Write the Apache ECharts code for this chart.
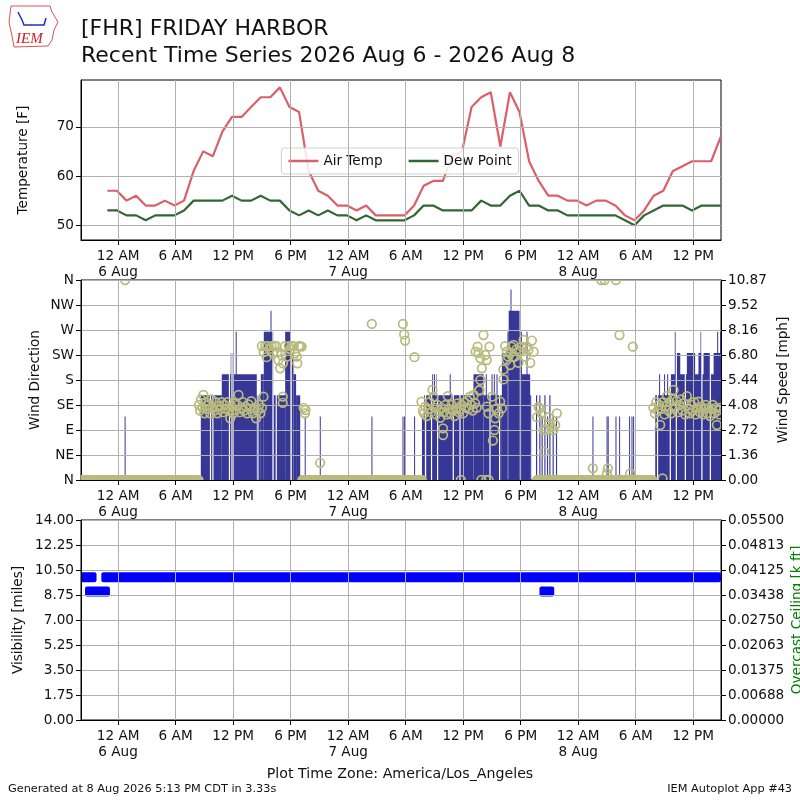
<!DOCTYPE html>
<html>
<head>
<meta charset="UTF-8">
<title>FHR recent time series</title>
<style>
html,body{margin:0;padding:0;background:#fff}
#main{width:800px;height:800px}
</style>
</head>
<body>
<div id="main"></div>
<script src="https://cdn.jsdelivr.net/npm/echarts@6/dist/echarts.min.js"></script>
<script>
// all times are hours counted from 12 AM 6 Aug (America/Los_Angeles)
var XMIN = -3.87, XMAX = 62.9;
var tickHours = [0, 6, 12, 18, 24, 30, 36, 42, 48, 54, 60];
var tickText = ['12 AM\n6 Aug', '6 AM', '12 PM', '6 PM', '12 AM\n7 Aug', '6 AM', '12 PM', '6 PM', '12 AM\n8 Aug', '6 AM', '12 PM'];
var dirNames = ['N', 'NE', 'E', 'SE', 'S', 'SW', 'W', 'NW', 'N'];

// hourly obs at :53, first one 10:53 PM 5 Aug
var firstObsHour = -1.12;
var airTemp = [57,57,55,56,54,54,55,54,55,61,65,64,69,72,72,74,76,76,78,74,73,61,57,56,54,54,53,54,52,52,
  52,52,54,58,59,59,64,65,74,76,77,66,77,73,63,59,56,56,55,55,54,55,55,54,52,51,53,56,57,61,62,63,63,63,68];
var dewPoint = [53,53,52,52,51,52,52,52,53,55,55,55,55,56,55,55,56,55,55,53,52,53,52,53,52,52,51,52,51,51,
  51,51,52,54,54,53,53,53,53,55,54,54,56,57,54,54,53,53,52,52,52,52,52,52,51,50,52,53,54,54,54,53,54,54,54];

// wind speed runs: [start hour, end hour, knots]
var KT2MPH = 1.15078;
var WIND_MAX = 10.8745;
var windRuns = [
  [0.68,0.78,3],
  [8.63,10.82,4],[10.82,14.47,5],[11.75,11.83,6],[11.93,12.0,6],[12.27,12.35,7],
  [14.47,14.89,4],[14.89,15.2,5],[15.2,16.2,7],[15.9,15.98,8],[16.2,17.43,4],
  [17.43,17.95,7],[17.95,18.3,6],[18.3,18.57,5],[18.57,19.0,4],
  [19.47,19.55,3],[21.04,21.12,3],[26.43,26.51,3],[29.67,29.75,3],[29.84,29.92,3],[30.88,30.96,3],
  [31.7,31.93,3],[31.93,37.08,4],[32.76,32.84,5],[32.96,33.04,5],[33.22,33.3,5],[34.6,34.68,5],
  [37.08,38.12,5],[38.12,40.04,4],[38.36,38.44,5],[38.96,39.04,5],[39.2,39.28,5],[39.48,39.56,5],
  [40.04,40.62,6],[40.62,40.75,7],[40.75,41.88,8],[40.94,41.02,9],[41.88,42.13,7],
  [42.13,42.99,5],[42.61,42.69,7],[42.99,43.1,4],
  [43.6,43.72,4],[43.94,44.06,4],[44.18,44.3,3],[44.47,44.59,4],[44.74,44.86,3],[44.99,45.11,4],
  [45.33,45.45,3],[45.68,45.8,3],
  [49.49,49.57,3],[50.96,51.04,3],[51.08,51.16,3],[51.89,51.97,3],[52.27,52.35,3],
  [53.31,53.39,3],[53.56,53.64,3],[53.73,53.81,3],
  [56.04,57.6,4],[56.44,56.52,5],[56.96,57.04,5],[57.28,57.36,5],[57.6,62.9,5],
  [58.12,58.65,6],[59.34,60.2,6],[60.55,60.9,6],[61.08,61.78,6],[62.13,62.9,6],
  [58.08,58.16,7],[60.76,60.84,7],[62.5,62.58,7],[62.8,62.88,7]
];
// missing wind obs inside the windy spells (hours)
var windGaps = [9.63, 9.88, 11.61, 11.87, 14.58, 16.15, 16.49, 18.05,
  32.07, 32.69, 33.32, 34.96, 35.66, 38.79, 39.79,
  56.27, 57.6, 58.23, 59.17, 60.9, 61.78];

// calm spells (direction 0, speed 0): [start hour, end hour]
var calmSpans = [[-3.9, 8.4], [19.2, 31.7], [43.7, 55.75]];

// wind direction obs: [hour, degrees]
var windDir = [
  [0.73,360],
  [8.45,135],[8.55,125],[8.65,145],[8.8,130],[8.9,153],[9.0,120],[9.15,140],[9.3,128],[9.45,135],[9.6,120],
  [9.75,145],[9.9,130],[10.05,125],[10.2,140],[10.35,120],[10.5,133],[10.65,127],[10.8,140],[10.95,122],
  [11.1,135],[11.25,128],[11.4,140],[11.55,125],[11.7,111],[11.85,132],[12.0,120],[12.15,138],[12.3,126],
  [12.45,135],[12.56,153],[12.7,122],[12.85,130],[13.0,140],[13.15,125],[13.3,132],[13.45,120],[13.6,136],
  [13.75,128],[13.9,142],[14.05,120],[14.2,130],[14.4,111],[14.55,125],[14.7,135],[14.85,120],[15.0,130],[15.17,150],
  [15.0,241],[15.2,230],[15.35,241],[15.5,221],[15.6,241],[15.8,236],[16.0,241],[16.15,228],[16.3,241],
  [16.5,241],[16.6,230],[16.73,216],[16.9,201],[17.05,225],[17.18,150],[17.18,139],[17.2,210],[17.4,241],
  [17.6,222],[17.8,241],[17.95,235],[18.1,241],[18.3,241],[18.45,228],[18.65,222],[18.7,210],[18.85,241],
  [19.0,241],[19.15,240],[19.35,130],[19.5,120],[19.55,126],
  [21.08,31],[26.47,281],[29.71,281],[29.85,262],[29.95,251],[30.92,221],
  [31.65,141],[31.8,125],[31.9,120],[32.05,132],[32.2,115],[32.35,128],[32.5,140],[32.65,122],[32.8,162],
  [32.9,150],[33.0,130],[33.15,118],[33.3,135],[33.45,125],[33.6,112],[33.75,130],[33.9,93],[33.9,81],
  [34.0,122],[34.15,135],[34.3,118],[34.4,151],[34.5,128],[34.65,120],[34.8,135],[34.95,125],[35.1,115],
  [35.25,130],[35.4,138],[35.55,122],[35.7,128],[35.76,0],[35.85,135],[36.0,120],[36.15,140],[36.3,130],
  [36.45,143],[36.6,128],[36.7,150],[36.85,135],[37.0,125],[37.1,153],[37.25,138],[37.4,130],[37.67,161],
  [37.3,231],[37.5,240],[37.6,229],[37.7,162],[37.8,219],[37.8,180],[37.9,0],[37.95,201],[38.12,261],
  [38.3,225],[38.4,0],[38.47,216],[38.47,132],[38.65,120],[38.65,0],[38.75,240],
  [39.0,150],[39.1,71],[39.27,90],[39.34,111],[39.5,129],[39.7,120],[39.86,141],[40.04,129],[40.2,181],[40.2,199],
  [40.38,241],[40.55,231],[40.55,216],[40.7,222],[40.9,207],[40.9,228],[41.05,240],[41.2,222],[41.25,243],
  [41.4,222],[41.55,235],[41.77,211],[41.95,231],[42.1,240],[42.3,252],[42.5,222],[42.65,240],[42.8,234],
  [43.0,211],[43.17,251],[43.35,231],
  [43.7,113],[43.86,131],[44.0,129],[44.2,120],[44.4,90],[44.45,51],[44.7,90],[44.9,113],[45.0,102],
  [45.2,95],[45.4,90],[45.6,99],[45.78,120],
  [49.53,21],[50.4,360],[50.75,360],[51.0,12],[51.1,21],[51.95,360],[52.31,261],[53.43,12],[53.7,240],[56.8,3],
  [55.85,130],[56.0,120],[56.15,140],[56.3,125],[56.45,135],[56.56,99],[56.7,128],[56.85,140],[57.0,118],
  [57.1,133],[57.25,151],[57.4,125],[57.55,140],[57.7,120],[57.85,145],[57.95,162],[58.1,130],[58.25,142],
  [58.4,122],[58.55,135],[58.7,145],[58.85,125],[59.0,138],[59.15,118],[59.34,151],[59.5,128],[59.65,120],
  [59.8,135],[59.95,125],[60.1,140],[60.25,118],[60.4,130],[60.55,141],[60.7,122],[60.85,132],[61.0,118],
  [61.15,128],[61.3,135],[61.45,120],[61.6,130],[61.75,115],[61.9,128],[62.05,135],[62.2,120],[62.35,130],
  [62.47,99],[62.6,125],[62.75,118],[62.85,130]
];

// visibility runs: [start hour, end hour, miles]
var visRuns = [[-3.9,-2.25,10],[-1.75,62.9,10],[-3.45,-0.85,9],[43.96,45.5,9]];

var FONT = 'DejaVu Sans';
var RED = '#db5f69', GREEN = '#336633', BAR = '#373797', OLIVE = '#b9ba7c', GRID = '#b0b0b0';

function xLabel(v) {
  var i = tickHours.indexOf(Math.round(v));
  return i >= 0 ? tickText[i] : '';
}
function fixed(v, n) {
  var p = Math.pow(10, n);
  return (Math.round(v * p + 1e-6) / p).toFixed(n);
}

function xAxisFor(g) {
  return {
    type: 'value', gridIndex: g, min: XMIN, max: XMAX, z: 5,
    axisLine: {show: true, onZero: false, lineStyle: {color: '#000', width: 1}},
    axisTick: {show: true, length: 5, customValues: tickHours, lineStyle: {color: '#000'}},
    axisLabel: {customValues: tickHours, formatter: xLabel, fontFamily: FONT, fontSize: 13.6,
      color: '#111', margin: 8, lineHeight: 16},
    splitLine: {show: true, lineStyle: {color: GRID, width: 1}}
  };
}
function yAxisBase(g, pos) {
  return {
    type: 'value', gridIndex: g, position: pos, z: 5,
    axisLine: {show: true, onZero: false, lineStyle: {color: '#000', width: 1}},
    axisTick: {show: true, length: 5, lineStyle: {color: '#000'}},
    axisLabel: {fontFamily: FONT, fontSize: 13.6, color: '#111', margin: 7},
    splitLine: {show: pos === 'left', lineStyle: {color: GRID, width: 1}}
  };
}

var yTemp = yAxisBase(0, 'left');
yTemp.min = 47; yTemp.max = 79.5;
yTemp.axisTick.customValues = [50, 60, 70];
yTemp.axisLabel.customValues = [50, 60, 70];

var yDir = yAxisBase(1, 'left');
yDir.min = 0; yDir.max = 360; yDir.interval = 45;
yDir.axisLabel.formatter = function (v) { return dirNames[Math.round(v / 45)]; };

var ySpeed = yAxisBase(1, 'right');
ySpeed.min = 0; ySpeed.max = WIND_MAX; ySpeed.interval = WIND_MAX / 8;
ySpeed.axisLabel.formatter = function (v) { return fixed(v, 2); };

var yVis = yAxisBase(2, 'left');
yVis.min = 0; yVis.max = 14; yVis.interval = 1.75;
yVis.axisLabel.formatter = function (v) { return fixed(v, 2); };

var yCeil = yAxisBase(2, 'right');
yCeil.min = 0; yCeil.max = 0.055; yCeil.interval = 0.055 / 8;
yCeil.axisLabel.formatter = function (v) { return fixed(v, 5); };

function pairs(vals) {
  return vals.map(function (v, i) { return [firstObsHour + i, v]; });
}

function runRect(scale, color) {
  return function (params, api) {
    var top = api.coord([api.value(0), api.value(2) * scale]);
    var bot = api.coord([api.value(1), 0]);
    return {type: 'rect', shape: {x: top[0], y: top[1], width: Math.max(bot[0] - top[0], 1), height: bot[1] - top[1]},
      style: {fill: color}};
  };
}

function axisTitle(text, x, y, color) {
  return {type: 'text', x: x, y: y, rotation: Math.PI / 2, z: 20,
    style: {text: text, fontFamily: FONT, fontSize: 13.6, fill: color || '#111',
      align: 'center', verticalAlign: 'middle', textAlign: 'center', textVerticalAlign: 'middle'}};
}
function plainText(text, x, y, size, align) {
  return {type: 'text', x: x, y: y, z: 20,
    style: {text: text, fontFamily: FONT, fontSize: size, fill: '#111',
      align: align, verticalAlign: 'middle', textAlign: align, textVerticalAlign: 'middle'}};
}

var chart = echarts.init(document.getElementById('main'), null, {renderer: 'canvas'});
chart.setOption({
  animation: false,
  backgroundColor: '#fff',
  grid: [
    {left: 81, top: 80, width: 640, height: 160, show: true, borderColor: '#000', borderWidth: 1},
    {left: 81, top: 280, width: 640, height: 200, show: true, borderColor: '#000', borderWidth: 1},
    {left: 81, top: 520, width: 640, height: 200, show: true, borderColor: '#000', borderWidth: 1}
  ],
  xAxis: [xAxisFor(0), xAxisFor(1), xAxisFor(2)],
  yAxis: [yTemp, yDir, ySpeed, yVis, yCeil],
  legend: {
    data: ['Air Temp', 'Dew Point'], left: 'center', top: 148, icon: 'rect', itemWidth: 30, itemHeight: 2.5,
    itemGap: 26, padding: [5, 7], backgroundColor: 'rgba(255,255,255,0.85)', borderColor: '#d0d0d0', borderWidth: 1,
    borderRadius: 3, textStyle: {fontFamily: FONT, fontSize: 13.6, color: '#111', lineHeight: 16}
  },
  graphic: [
    {type: 'polyline', z: 20, shape: {points: [[11,6],[50,6],[52,12],[58,22],[54,30],[52,40],[48,46],[14,47],[12,36],[9,22],[11,6]]},
      style: {stroke: '#e05050', fill: 'none', lineWidth: 1}},
    {type: 'polyline', z: 20, shape: {points: [[18,12],[22,20],[24,25],[44,25],[46,18]]}, style: {stroke: '#2030c0', fill: 'none', lineWidth: 1.5}},
    {type: 'text', x: 16, y: 39, z: 20, style: {text: 'IEM', fontFamily: 'Liberation Serif', fontStyle: 'italic',
      fontSize: 15, fill: '#d02020', verticalAlign: 'middle', textVerticalAlign: 'middle'}},
    plainText('[FHR] FRIDAY HARBOR', 81, 29, 22, 'left'),
    plainText('Recent Time Series 2026 Aug 6 - 2026 Aug 8', 81, 56, 22, 'left'),
    axisTitle('Temperature [F]', 23, 160),
    axisTitle('Wind Direction', 35, 380),
    axisTitle('Wind Speed [mph]', 783, 380),
    axisTitle('Visibility [miles]', 18, 620),
    axisTitle('Overcast Ceiling [k ft]', 797, 620, '#008000'),
    plainText('Plot Time Zone: America/Los_Angeles', 400, 774, 14.2, 'center'),
    plainText('Generated at 8 Aug 2026 5:13 PM CDT in 3.33s', 8, 789, 11.3, 'left'),
    plainText('IEM Autoplot App #43', 792, 789, 11.3, 'right')
  ],
  series: [
    {name: 'Air Temp', type: 'line', xAxisIndex: 0, yAxisIndex: 0, symbol: 'none', z: 3,
      lineStyle: {color: RED, width: 2.2}, itemStyle: {color: RED}, data: pairs(airTemp)},
    {name: 'Dew Point', type: 'line', xAxisIndex: 0, yAxisIndex: 0, symbol: 'none', z: 3,
      lineStyle: {color: GREEN, width: 2.2}, itemStyle: {color: GREEN}, data: pairs(dewPoint)},
    {type: 'custom', xAxisIndex: 1, yAxisIndex: 2, z: 1, clip: true, encode: {x: [0, 1], y: 2},
      data: windRuns, renderItem: runRect(KT2MPH, BAR)},
    {type: 'custom', xAxisIndex: 1, yAxisIndex: 2, z: 2, clip: true, encode: {x: 0},
      data: windGaps.map(function (h) { return [h]; }),
      renderItem: function (params, api) {
        var a = api.coord([api.value(0), WIND_MAX]), b = api.coord([api.value(0), 0]);
        return {type: 'rect', shape: {x: a[0] - 0.5, y: a[1], width: 1.2, height: b[1] - a[1]}, style: {fill: '#fff'}};
      }},
    {type: 'custom', xAxisIndex: 1, yAxisIndex: 1, z: 10, clip: true, encode: {x: [0, 1]},
      data: calmSpans,
      renderItem: function (params, api) {
        var a = api.coord([api.value(0), 0]), b = api.coord([api.value(1), 0]);
        return {type: 'rect', shape: {x: a[0] - 5, y: a[1] - 5, width: b[0] - a[0] + 10, height: 10, r: 5},
          style: {fill: OLIVE}};
      }},
    {type: 'custom', xAxisIndex: 1, yAxisIndex: 1, z: 10, clip: true, encode: {x: 0, y: 1},
      data: windDir,
      renderItem: function (params, api) {
        var p = api.coord([api.value(0), api.value(1)]);
        return {type: 'circle', shape: {cx: p[0], cy: p[1], r: 4.3},
          style: {fill: 'none', stroke: OLIVE, lineWidth: 1.7}};
      }},
    {type: 'custom', xAxisIndex: 2, yAxisIndex: 3, z: 1, clip: true, encode: {x: [0, 1], y: 2},
      data: visRuns,
      renderItem: function (params, api) {
        var a = api.coord([api.value(0), api.value(2)]), b = api.coord([api.value(1), api.value(2)]);
        return {type: 'rect', shape: {x: a[0], y: a[1] - 5, width: b[0] - a[0], height: 10, r: 2},
          style: {fill: '#0000ff'}};
      }}
  ]
});
</script>
</body>
</html>
